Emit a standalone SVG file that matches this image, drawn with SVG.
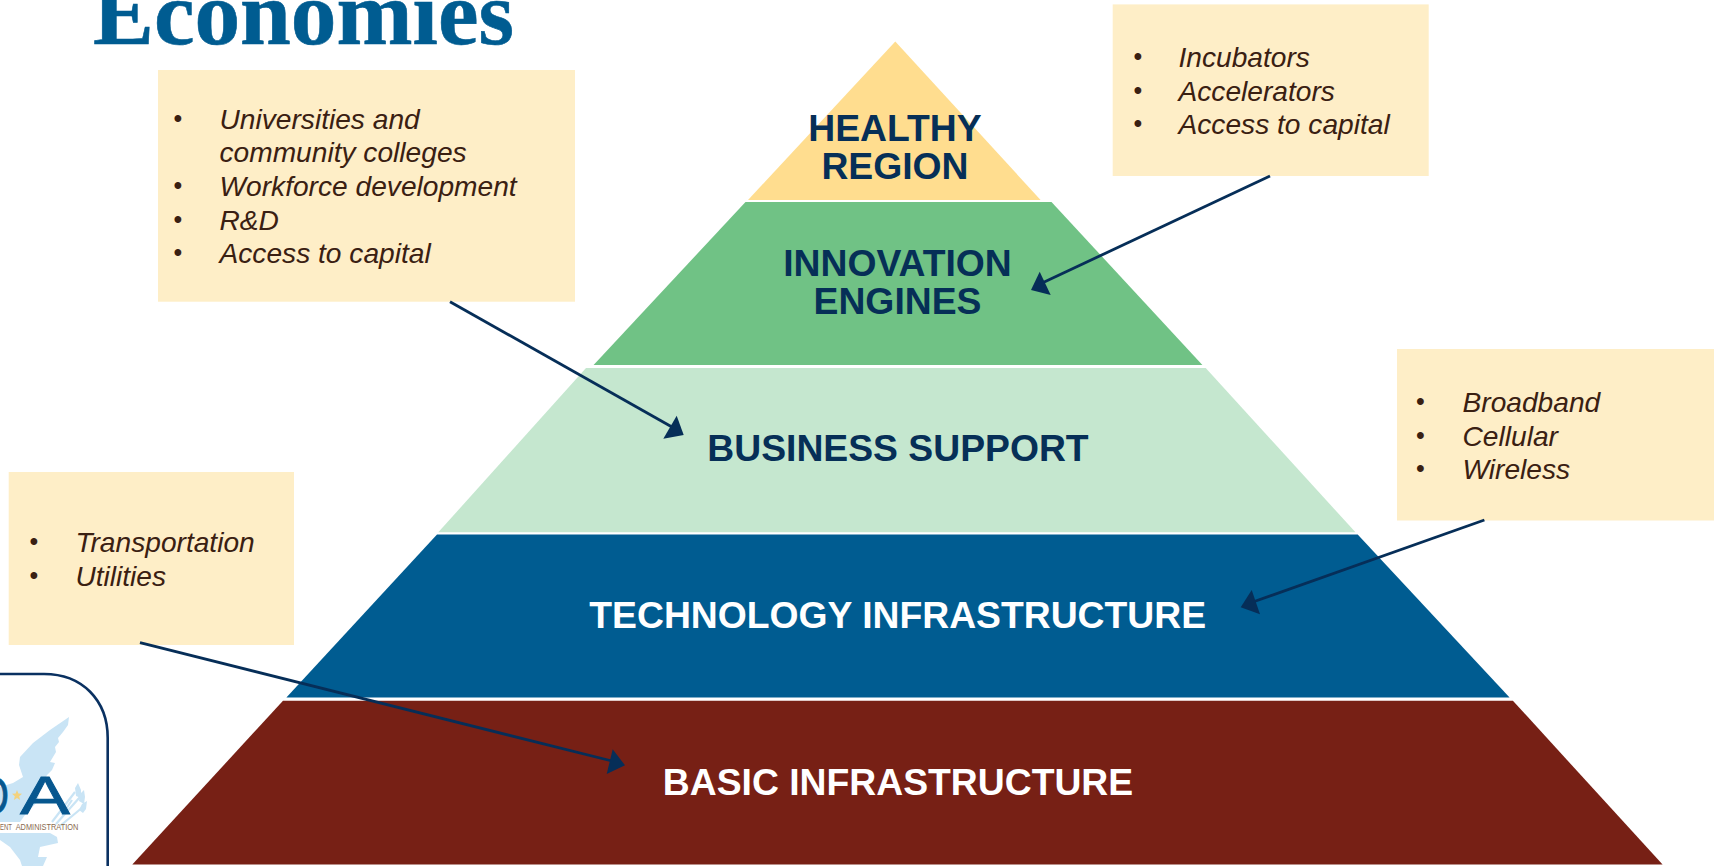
<svg xmlns="http://www.w3.org/2000/svg" width="1714" height="866" viewBox="0 0 1714 866">
<defs>
<style>
.tier{font:bold 37.300px "Liberation Sans",Arial,sans-serif;text-anchor:middle}
.navy{fill:#062F57}
.white{fill:#fff}
.box{fill:#FEEEC7}
.li{font:italic 28.150px "Liberation Sans",Arial,sans-serif;fill:#3A2012}
.bu{font:25px "Liberation Sans",Arial,sans-serif;fill:#3A2012}
.conn{stroke:#062E58;stroke-width:2.800;fill:none}
.head{fill:#062E58}
.eagle{fill:#C9E4F5}
.feather{stroke:#C9E4F5;stroke-width:2.200;fill:none}
.edaL{font-family:"Liberation Sans",Arial,sans-serif;font-size:54px;fill:#07578F;stroke:#07578F;stroke-width:.8px}
.edaS{font-family:"Liberation Sans",Arial,sans-serif;font-size:9.500px;fill:#8A6A4E}
</style>
</defs>
<rect width="1714" height="866" fill="#fff"/>
<text id="title" x="93" y="43.500" font-family="'Liberation Serif','Times New Roman',serif" font-weight="bold" font-size="91.300" fill="#005C91" stroke="#005C91" stroke-width=".6">Economies</text>

<g id="logo">
<path d="M-5 674H44C82 674 107.700 700 107.700 738V870" fill="none" stroke="#0A3161" stroke-width="2.600"/>
<path class="eagle" d="M69 717L68 725 63 732 58 738 59 742 55 747 56 752 50 762 55 763 52 770 47 775 40 790 37 802 25 815 20 822H0V787L13 783 23 777 19 765 20 757 33 743 50 730Z"/>
<path class="eagle" d="M0 833H36L50 833 57 837 58 843 40 847 38 857 47 857 43 866H22L20 860 10 847 0 840Z"/>
<g class="feather">
<path d="M52 822L75 792M56 824L80 797M60 826L83 807M62 815L72 800"/>
</g>
<path class="eagle" d="M75 788L78 783 81 790 81 798 76 796ZM80 794L84 790 85 797 84 804 79 801ZM82 804L87 801 86 809 83 813 79 810Z"/>
<text class="edaL" x="-20" y="814" textLength="29" lengthAdjust="spacingAndGlyphs">D</text>
<text class="edaL" x="20" y="814" textLength="50" lengthAdjust="spacingAndGlyphs">A</text>
<polygon points="17,790 18.400,793.500 22,793.800 19.200,796.200 20.100,800 17,798 13.900,800 14.800,796.200 12,793.800 15.600,793.500" fill="#F3D27E"/>
<text class="edaS" x="0" y="830" textLength="12" lengthAdjust="spacingAndGlyphs">ENT</text>
<text class="edaS" x="15.700" y="830" textLength="62.600" lengthAdjust="spacingAndGlyphs">ADMINISTRATION</text>
</g>

<g id="tier-healthy-region">
<polygon points="895.300,41.500 1040.600,200 748,200" fill="#FFDD8F"/>
<text class="tier navy" x="895" y="141">HEALTHY</text>
<text class="tier navy" x="895" y="179">REGION</text>
</g>
<g id="tier-innovation-engines">
<polygon points="745.500,202 1051.500,202 1202.400,365 593.600,365" fill="#70C285"/>
<text class="tier navy" x="897.500" y="275.500">INNOVATION</text>
<text class="tier navy" x="897.500" y="314">ENGINES</text>
</g>
<g id="tier-business-support">
<polygon points="586,368 1205.700,368 1355.500,532.300 438.300,532.300" fill="#C5E7CF"/>
<text class="tier navy" x="898" y="461">BUSINESS SUPPORT</text>
</g>
<g id="tier-technology-infrastructure">
<polygon points="437,534.500 1357.700,534.500 1509.600,697.400 286.400,697.400" fill="#005C91"/>
<text class="tier white" x="897.700" y="627.500">TECHNOLOGY INFRASTRUCTURE</text>
</g>
<g id="tier-basic-infrastructure">
<polygon points="283,700.700 1512.900,700.700 1662.600,864.600 132.300,864.600" fill="#772015"/>
<text class="tier white" x="898" y="795">BASIC INFRASTRUCTURE</text>
</g>

<g id="box-universities">
<rect class="box" x="158" y="70" width="417" height="231.700"/>
<text class="bu" x="173.500" y="127">•</text>
<text class="bu" x="173.500" y="194">•</text>
<text class="bu" x="173.500" y="228">•</text>
<text class="bu" x="173.500" y="261">•</text>
<text class="li" x="219.500" y="129">Universities and</text>
<text class="li" x="219.500" y="162">community colleges</text>
<text class="li" x="219.500" y="196">Workforce development</text>
<text class="li" x="219.500" y="229.500">R&amp;D</text>
<text class="li" x="219.500" y="263">Access to capital</text>
</g>
<g id="box-incubators">
<rect class="box" x="1112.700" y="4.400" width="316" height="171.600"/>
<text class="bu" x="1133.500" y="65">•</text>
<text class="bu" x="1133.500" y="99">•</text>
<text class="bu" x="1133.500" y="132">•</text>
<text class="li" x="1178.500" y="67">Incubators</text>
<text class="li" x="1178.500" y="100.700">Accelerators</text>
<text class="li" x="1178.500" y="134.200">Access to capital</text>
</g>
<g id="box-broadband">
<rect class="box" x="1397" y="349" width="317" height="171.500"/>
<text class="bu" x="1416" y="410">•</text>
<text class="bu" x="1416" y="444">•</text>
<text class="bu" x="1416" y="477">•</text>
<text class="li" x="1462.500" y="412">Broadband</text>
<text class="li" x="1462.500" y="445.500">Cellular</text>
<text class="li" x="1462.500" y="479">Wireless</text>
</g>
<g id="box-transportation">
<rect class="box" x="8.700" y="472" width="285.300" height="173"/>
<text class="bu" x="29.500" y="550">•</text>
<text class="bu" x="29.500" y="584">•</text>
<text class="li" x="75.400" y="552">Transportation</text>
<text class="li" x="75.400" y="585.500">Utilities</text>
</g>

<g id="connectors">
<line class="conn" x1="450" y1="301.700" x2="672" y2="427"/>
<polygon class="head" points="676.700,415.700 683.700,435 663.300,438.700"/>
<line class="conn" x1="1270" y1="176" x2="1040" y2="284"/>
<polygon class="head" points="1039.700,271.700 1050.700,295 1031,290"/>
<line class="conn" x1="1484.400" y1="520" x2="1250" y2="603"/>
<polygon class="head" points="1251.700,590 1260,614.300 1240.700,607.300"/>
<line class="conn" x1="140" y1="642.700" x2="612" y2="761"/>
<polygon class="head" points="612.700,749.300 625,765.300 606.700,774"/>
</g>
</svg>
